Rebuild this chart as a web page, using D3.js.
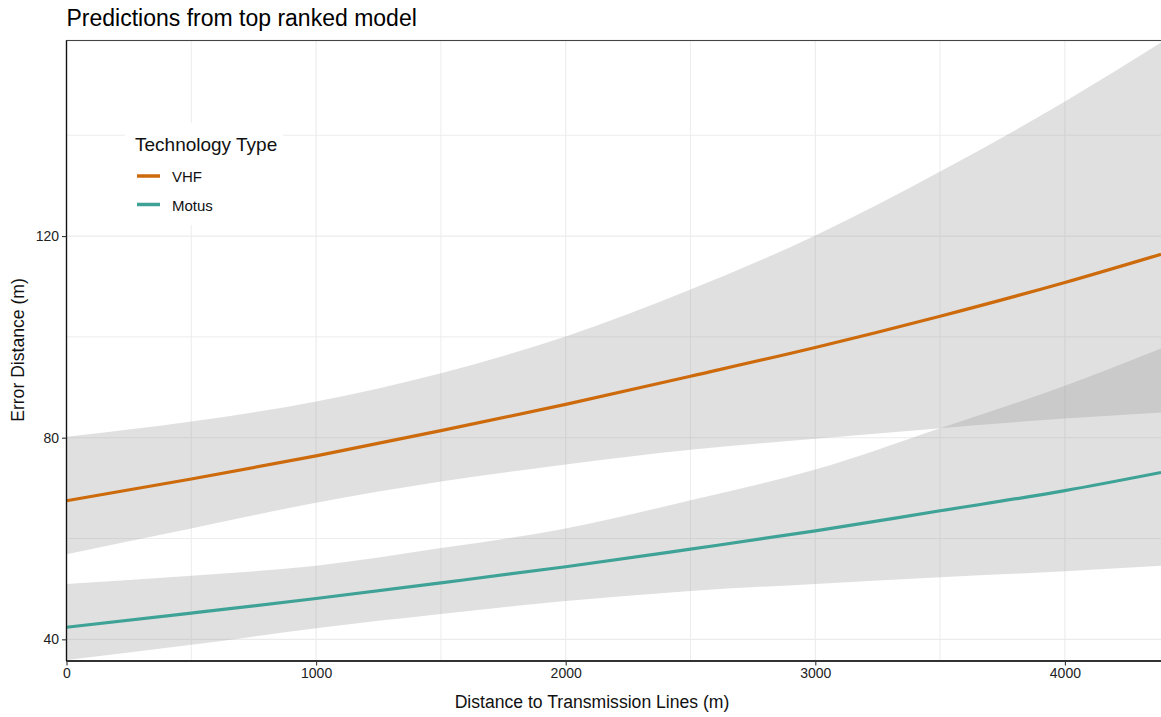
<!DOCTYPE html>
<html>
<head>
<meta charset="utf-8">
<script src="https://cdn.jsdelivr.net/npm/d3@7"></script>
<style>
  html, body { margin: 0; padding: 0; background: #fff; }
  svg { display: block; font-family: "Liberation Sans", Arial, sans-serif; }
</style>
</head>
<body>
<svg id="chart" width="1161" height="717"></svg>
<script>
// ---- data ----
const distances = [0, 500, 1000, 1500, 2000, 2500, 3000, 3500, 4000, 4385];
const vhfFit    = [67.5, 71.8, 76.4, 81.4, 86.6, 92.2, 97.9, 104.1, 110.8, 116.4];
const vhfUpper  = [80.2, 83.2, 87.2, 92.8, 100.1, 109.4, 120.1, 132.8, 146.7, 158.4];
const vhfLower  = [56.9, 62.0, 67.1, 71.3, 74.7, 77.6, 79.8, 81.9, 83.8, 85.0];
const motusFit   = [42.4, 45.2, 48.1, 51.2, 54.4, 57.9, 61.5, 65.5, 69.5, 73.1];
const motusUpper = [51.0, 52.6, 54.6, 58.1, 62.0, 67.6, 73.7, 81.9, 90.3, 97.7];
const motusLower = [35.9, 38.9, 42.2, 45.0, 47.6, 49.6, 51.0, 52.3, 53.5, 54.6];
const seriesNames = ["VHF", "Motus"];
const seriesColors = ["#cc6a0c", "#3ea396"];
const xTicks = [0, 1000, 2000, 3000, 4000];
const xMinor = [500, 1500, 2500, 3500];
const yTicks = [40, 80, 120];
const yMinor = [60, 100, 140];
const titleText = "Predictions from top ranked model";
const xTitle = "Distance to Transmission Lines (m)";
const yTitle = "Error Distance (m)";
const legendTitle = "Technology Type";

// ---- layout ----
const svg = d3.select("#chart");
const L = 66.5, T = 40.5, R = 1162, B = 661;
const x = d3.scaleLinear().domain([0, 4385]).range([L, 1161]);
const y = d3.scaleLinear().domain([35.7, 158.9]).range([B, 40]);

svg.append("defs").append("clipPath").attr("id", "clip")
  .append("rect").attr("x", L).attr("y", T).attr("width", R - L).attr("height", B - T);

// gridlines
const grid = svg.append("g");
xMinor.concat(xTicks).forEach(v => {
  grid.append("line").attr("x1", x(v)).attr("x2", x(v)).attr("y1", T).attr("y2", B)
    .attr("stroke", "#ebebeb").attr("stroke-width", xMinor.includes(v) ? 0.9 : 1.1);
});
yMinor.concat(yTicks).forEach(v => {
  grid.append("line").attr("x1", L).attr("x2", R).attr("y1", y(v)).attr("y2", y(v))
    .attr("stroke", "#ebebeb").attr("stroke-width", yMinor.includes(v) ? 0.9 : 1.1);
});

const plot = svg.append("g").attr("clip-path", "url(#clip)");
const series = [
  { name: seriesNames[0], color: seriesColors[0], fit: vhfFit, lo: vhfLower, hi: vhfUpper },
  { name: seriesNames[1], color: seriesColors[1], fit: motusFit, lo: motusLower, hi: motusUpper }
];
const area = d3.area().curve(d3.curveMonotoneX)
  .x((d, i) => x(distances[i])).y0(d => y(d.lo)).y1(d => y(d.hi));
const line = d3.line().curve(d3.curveMonotoneX)
  .x((d, i) => x(distances[i])).y(d => y(d));

series.forEach(s => {
  const pts = distances.map((_, i) => ({ lo: s.lo[i], hi: s.hi[i] }));
  plot.append("path").attr("d", area(pts)).attr("fill", "#999999").attr("fill-opacity", 0.3);
});
series.forEach(s => {
  plot.append("path").attr("d", line(s.fit)).attr("fill", "none")
    .attr("stroke", s.color).attr("stroke-width", 3.2);
});

// panel border
svg.append("rect").attr("x", L).attr("y", T).attr("width", R - L).attr("height", B - T)
  .attr("fill", "none").attr("stroke", "#444").attr("stroke-width", 1.1);
svg.append("line").attr("x1", L).attr("x2", L).attr("y1", T).attr("y2", B)
  .attr("stroke", "#111").attr("stroke-width", 1.3);
svg.append("line").attr("x1", L).attr("x2", R).attr("y1", B).attr("y2", B)
  .attr("stroke", "#111").attr("stroke-width", 1.3);

// axes
const xAxis = svg.append("g").attr("transform", `translate(0,${B})`)
  .call(d3.axisBottom(x).tickValues(xTicks).tickSize(4.5).tickPadding(3).tickFormat(d3.format("d")));
const yAxis = svg.append("g").attr("transform", `translate(${L},0)`)
  .call(d3.axisLeft(y).tickValues(yTicks).tickSize(4.5).tickPadding(3).tickFormat(d3.format("d")));
[xAxis, yAxis].forEach(a => {
  a.select(".domain").remove();
  a.selectAll(".tick line").attr("stroke", "#333").attr("stroke-width", 1.1);
  a.selectAll(".tick text").attr("fill", "#222").style("font-size", "14px")
    .style("font-family", '"Liberation Sans", Arial, sans-serif');
});

// titles
svg.append("text").attr("x", L).attr("y", 26).text(titleText)
  .style("font-size", "23px").attr("fill", "#000");
svg.append("text").attr("x", 592).attr("y", 708).attr("text-anchor", "middle").text(xTitle)
  .style("font-size", "17.6px").attr("fill", "#111");
svg.append("text").attr("transform", "translate(24,350) rotate(-90)").attr("text-anchor", "middle")
  .text(yTitle).style("font-size", "17.6px").attr("fill", "#111");

// legend
const lg = svg.append("g");
lg.append("rect").attr("x", 125).attr("y", 123).attr("width", 158).attr("height", 102).attr("fill", "#fff");
lg.append("text").attr("x", 135).attr("y", 151).text(legendTitle).style("font-size", "19px").attr("fill", "#111");
series.forEach((s, i) => {
  const cy = 176 + i * 28.5;
  lg.append("line").attr("x1", 137).attr("x2", 160).attr("y1", cy).attr("y2", cy)
    .attr("stroke", s.color).attr("stroke-width", 3.5);
  lg.append("text").attr("x", 172).attr("y", cy + 6).text(s.name)
    .style("font-size", "15px").attr("fill", "#111");
});
</script>
</body>
</html>
